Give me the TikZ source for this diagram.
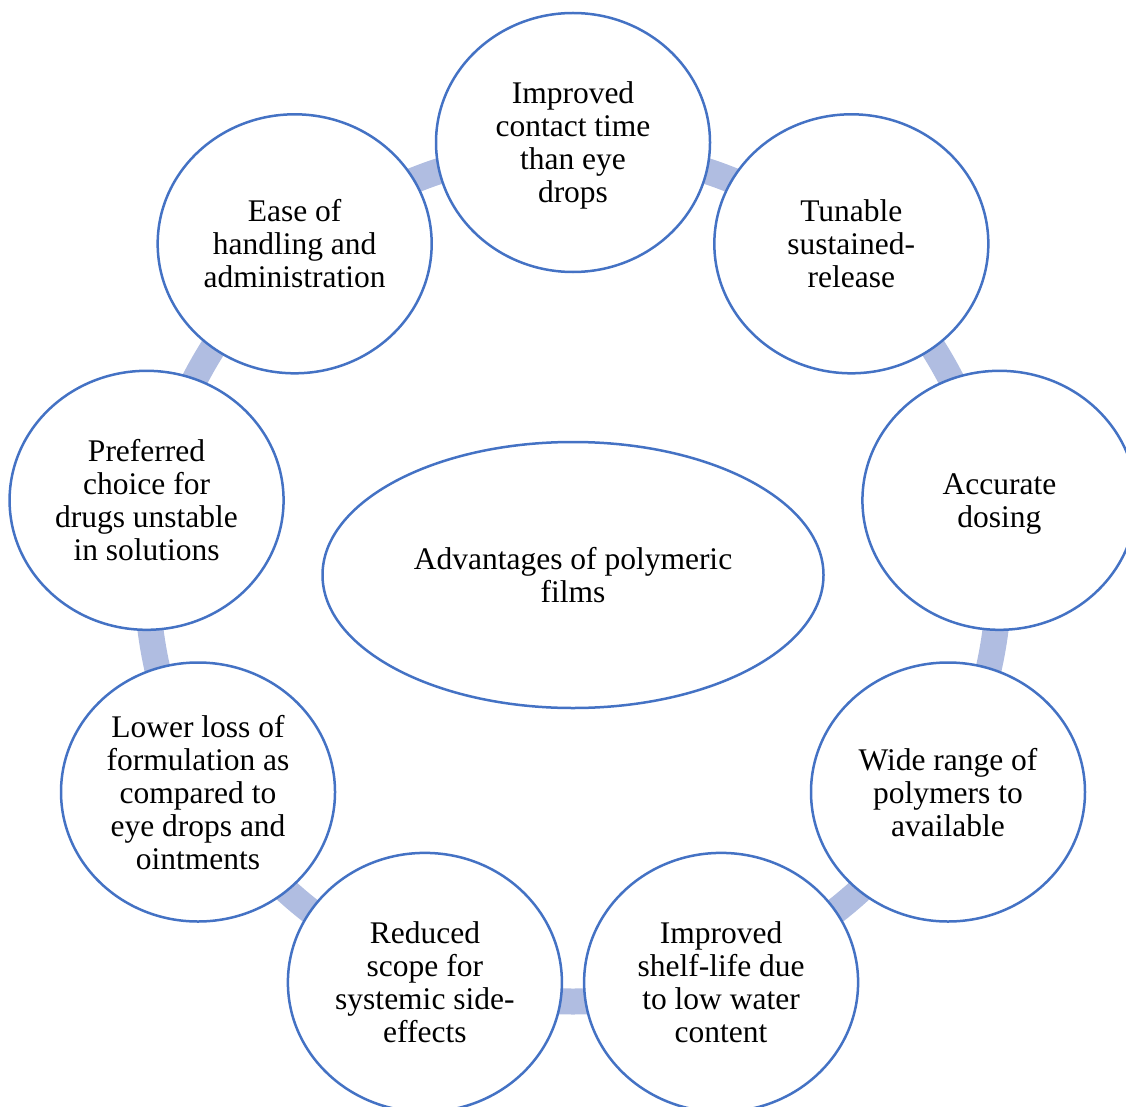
\documentclass[tikz,border=0pt]{standalone}
\usepackage{fontspec}
\setmainfont{Liberation Serif}
\usetikzlibrary{shapes.geometric,calc,backgrounds}
\definecolor{ringblue}{RGB}{176,189,225}
\definecolor{edgeblue}{RGB}{68,114,196}
\begin{document}
\begin{tikzpicture}[x=1pt,y=1pt,
  item/.style={ellipse, draw=edgeblue, line width=2.5pt, fill=white,
    minimum width=274pt, minimum height=259pt, inner sep=0pt,
    text depth=0pt, align=center, font=\fontsize{31.5}{33}\selectfont},
  hub/.style={item, minimum width=501pt, minimum height=266pt},
  ring/.style={draw=ringblue, line width=26pt}]
\useasboundingbox (0,0) rectangle (1126,-1107);
% centre of the cycle
\coordinate (o) at (573,-575.5);

% central topic
\node[hub] (hub) at (573,-575) {Advantages of polymeric\\films};

% the nine advantages around the cycle
\node[item] (n1) at ($(o)+(90:433)$)   {Improved\\contact time\\than eye\\drops};
\node[item] (n2) at ($(o)+(50:433)$)   {Tunable\\sustained-\\release};
\node[item] (n3) at ($(o)+(10:433)$)   {Accurate\\dosing};
\node[item] (n4) at ($(o)+(-30:433)$)  {Wide range of\\polymers to\\available};
\node[item] (n5) at ($(o)+(-70:433)$)  {Improved\\shelf-life due\\to low water\\content};
\node[item] (n6) at ($(o)+(-110:433)$) {Reduced\\scope for\\systemic side-\\effects};
\node[item] (n7) at ($(o)+(-150:433)$) {Lower loss of\\formulation as\\compared to\\eye drops and\\ointments};
\node[item] (n8) at ($(o)+(170:433)$)  {Preferred\\choice for\\drugs unstable\\in solutions};
\node[item] (n9) at ($(o)+(130:433)$)  {Ease of\\handling and\\administration};

% ring connectors running behind the circles
\begin{scope}[on background layer]
  \coordinate (r1) at ($(o)+(90:426)$);
  \coordinate (r2) at ($(o)+(50:426)$);
  \coordinate (r3) at ($(o)+(10:426)$);
  \coordinate (r4) at ($(o)+(-30:426)$);
  \coordinate (r5) at ($(o)+(-70:426)$);
  \coordinate (r6) at ($(o)+(-110:426)$);
  \coordinate (r7) at ($(o)+(-150:426)$);
  \coordinate (r8) at ($(o)+(-190:426)$);
  \coordinate (r9) at ($(o)+(-230:426)$);
  \draw[ring] (r1) arc[start angle=90,   end angle=50,   radius=426];
  \draw[ring] (r2) arc[start angle=50,   end angle=10,   radius=426];
  \draw[ring] (r3) arc[start angle=10,   end angle=-30,  radius=426];
  \draw[ring] (r4) arc[start angle=-30,  end angle=-70,  radius=426];
  \draw[ring] (r5) arc[start angle=-70,  end angle=-110, radius=426];
  \draw[ring] (r6) arc[start angle=-110, end angle=-150, radius=426];
  \draw[ring] (r7) arc[start angle=-150, end angle=-190, radius=426];
  \draw[ring] (r8) arc[start angle=-190, end angle=-230, radius=426];
  \draw[ring] (r9) arc[start angle=-230, end angle=-270, radius=426];
\end{scope}
\end{tikzpicture}
\end{document}
